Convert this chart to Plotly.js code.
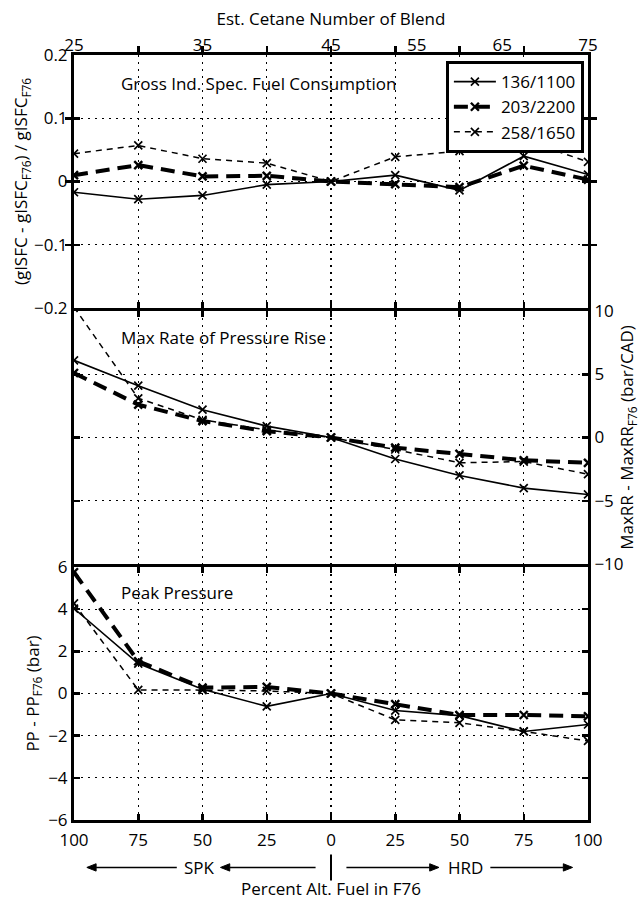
<!DOCTYPE html>
<html>
<head>
<meta charset="utf-8">
<script src="https://cdn.plot.ly/plotly-3.0.1.min.js"></script>
<style>
html,body{margin:0;padding:0;background:#fff;}
#chart{width:640px;height:903px;}
</style>
</head>
<body>
<div id="chart"></div>
<script>
// Percent alternative fuel in F76: negative = SPK side, positive = HRD side
const pctPositions = [-100, -75, -50, -25, 0, 25, 50, 75, 100];
const pctLabels = ['100', '75', '50', '25', '0', '25', '50', '75', '100'];

// Estimated cetane number of the blend (top axis)
const cetaneTicks = [25, 35, 45, 55, 65, 75];
const cetaneSPK100 = 25;   // 100% SPK
const cetaneF76 = 45;      // neat F76
const cetaneHRD100 = 75;   // 100% HRD

const seriesNames = ['136/1100', '203/2200', '258/1650'];

// Gross indicated specific fuel consumption, relative to F76
const gisfc136 = [-0.017, -0.028, -0.022, -0.005, 0, 0.010, -0.014, 0.040, 0.011];
const gisfc203 = [0.010, 0.026, 0.008, 0.009, 0, -0.004, -0.009, 0.025, 0.003];
const gisfc258 = [0.044, 0.057, 0.036, 0.029, 0, 0.039, 0.048, 0.066, 0.031];

// Max rate of pressure rise minus F76 (bar/CAD)
const maxrr136 = [6.1, 4.1, 2.2, 0.9, 0, -1.7, -3.0, -4.0, -4.5];
const maxrr203 = [5.1, 2.6, 1.3, 0.5, 0, -0.8, -1.3, -1.8, -2.0];
const maxrr258 = [10.3, 3.1, 1.4, 0.6, 0, -0.95, -2.0, -1.9, -2.9];

// Peak pressure minus F76 (bar)
const pp136 = [4.03, 1.42, 0.2, -0.61, 0, -0.81, -1.05, -1.8, -1.47];
const pp203 = [5.75, 1.53, 0.28, 0.31, 0, -0.5, -1.02, -1.02, -1.08];
const pp258 = [4.27, 0.17, 0.16, 0.12, 0, -1.25, -1.39, -1.8, -2.25];

const gisfcTicks = [-0.2, -0.1, 0, 0.1, 0.2];
const gisfcTickText = ['\u22120.2', '\u22120.1', '0', '0.1', '0.2'];
const maxrrTicks = [-10, -5, 0, 5, 10];
const maxrrTickText = ['\u221210', '\u22125', '0', '5', '10'];
const ppTicks = [-6, -4, -2, 0, 2, 4, 6];
const ppTickText = ['\u22126', '\u22124', '\u22122', '0', '2', '4', '6'];

// map cetane number to the percent axis (piecewise linear: SPK side / HRD side)
function cetaneToPct(c) {
  if (c <= cetaneF76) return -100 * (cetaneF76 - c) / (cetaneF76 - cetaneSPK100);
  return 100 * (c - cetaneF76) / (cetaneHRD100 - cetaneF76);
}
const cetanePos = cetaneTicks.map(cetaneToPct);

const FONT = 'Open Sans, sans-serif';
const styles = [
  {line: {color: '#000', width: 1.6, dash: 'solid'}, marker: {symbol: 'x-thin', size: 8, color: '#000', line: {color: '#000', width: 1.7}}},
  {line: {color: '#000', width: 4, dash: '14px,8px'}, marker: {symbol: 'x-thin', size: 8, color: '#000', line: {color: '#000', width: 2.4}}},
  {line: {color: '#000', width: 1.5, dash: '6px,5px'}, marker: {symbol: 'x-thin', size: 8, color: '#000', line: {color: '#000', width: 1.7}}}
];

const panels = [
  {y: [gisfc136, gisfc203, gisfc258], yaxis: 'y', legend: true},
  {y: [maxrr136, maxrr203, maxrr258], yaxis: 'y2', legend: false},
  {y: [pp136, pp203, pp258], yaxis: 'y3', legend: false}
];

const traces = [];
panels.forEach(p => {
  p.y.forEach((vals, i) => {
    traces.push({
      x: pctPositions, y: vals, xaxis: 'x', yaxis: p.yaxis,
      type: 'scatter', mode: 'lines+markers', name: seriesNames[i],
      showlegend: p.legend, legendgroup: seriesNames[i],
      line: styles[i].line, marker: styles[i].marker,
      cliponaxis: true, hoverinfo: 'skip'
    });
  });
});
// carrier trace so the top cetane axis is drawn
traces.push({x: cetanePos, y: cetanePos.map(() => null), xaxis: 'x2', yaxis: 'y',
  type: 'scatter', mode: 'markers', showlegend: false, hoverinfo: 'skip'});

// panel domains: a gap equal to the frame line width so the shared borders coincide
const plotH = 903 - 55 - 83;
const LW = 3;
const g = LW / plotH;
const ph = (1 - 2 * g) / 3;
const domBottom = [0, ph];
const domMiddle = [ph + g, 2 * ph + g];
const domTop = [2 * ph + 2 * g, 1];

const gridCommon = {
  showgrid: true, gridcolor: '#000', gridwidth: 1.3, griddash: '2px,5px',
  zeroline: false, showline: true, linecolor: '#000', linewidth: LW,
  mirror: 'allticks', ticks: 'inside', ticklen: 6, tickwidth: 2.5, tickcolor: '#000',
  tickfont: {family: FONT, size: 17, color: '#000'}, automargin: false
};

// arrow geometry along the bottom annotation row (percent-axis units / paper units)
const arrowY = -0.062;
const headLen = 3.6;   // x units
const headHalf = 0.0048; // paper units
function arrowShapes(tail, head) {
  const dir = head > tail ? 1 : -1;
  const base = head - dir * headLen;
  return [
    {type: 'line', xref: 'x', yref: 'paper', x0: tail, x1: base, y0: arrowY, y1: arrowY, line: {color: '#000', width: 1.6}},
    {type: 'path', xref: 'x', yref: 'paper',
     path: `M ${head},${arrowY} L ${base},${arrowY + headHalf} L ${base},${arrowY - headHalf} Z`,
     fillcolor: '#000', line: {color: '#000', width: 1}}
  ];
}

const layout = {
  width: 640, height: 903,
  margin: {l: 74, r: 52, t: 55, b: 83},
  paper_bgcolor: '#fff', plot_bgcolor: '#fff',
  font: {family: FONT, size: 17, color: '#000'},
  showlegend: true,
  legend: {
    x: 0.992, y: 0.992, xanchor: 'right', yanchor: 'top',
    bgcolor: '#fff', bordercolor: '#000', borderwidth: 3,
    font: {family: FONT, size: 17, color: '#000'},
    itemwidth: 42, tracegroupgap: 0
  },
  xaxis: Object.assign({}, gridCommon, {
    anchor: 'y3', range: [-100, 100], tickvals: pctPositions, ticktext: pctLabels,
    ticklabelstandoff: 3,
    title: {text: 'Percent Alt. Fuel in F76', font: {family: FONT, size: 17}, standoff: 33}
  }),
  xaxis2: {
    overlaying: 'x', anchor: 'y', side: 'top', range: [-100, 100],
    tickvals: cetanePos, ticktext: cetaneTicks.map(String), ticks: '',
    showgrid: false, zeroline: false, showline: false,
    tickfont: {family: FONT, size: 17, color: '#000'},
    title: {text: 'Est. Cetane Number of Blend', font: {family: FONT, size: 17}, standoff: 2},
    automargin: false
  },
  yaxis: Object.assign({}, gridCommon, {
    anchor: 'x', domain: domTop, range: [-0.2, 0.2],
    tickvals: gisfcTicks, ticktext: gisfcTickText,
    title: {text: '(gISFC - gISFC<sub>F76</sub>) / gISFC<sub>F76</sub>', font: {family: FONT, size: 17}, standoff: 0}
  }),
  yaxis2: Object.assign({}, gridCommon, {
    anchor: 'x', domain: domMiddle, side: 'right', range: [-10, 10],
    tickvals: maxrrTicks, ticktext: maxrrTickText,
    title: {text: 'MaxRR - MaxRR<sub>F76</sub> (bar/CAD)', font: {family: FONT, size: 17}, standoff: 6}
  }),
  yaxis3: Object.assign({}, gridCommon, {
    anchor: 'x', domain: domBottom, range: [-6, 6],
    tickvals: ppTicks, ticktext: ppTickText,
    title: {text: 'PP - PP<sub>F76</sub> (bar)', font: {family: FONT, size: 17}, standoff: 5}
  }),
  annotations: [
    {text: 'Gross Ind. Spec. Fuel Consumption', xref: 'paper', yref: 'paper', x: 0.088, y: 0.963, xanchor: 'left', yanchor: 'middle', showarrow: false, font: {family: FONT, size: 17}},
    {text: 'Max Rate of Pressure Rise', xref: 'paper', yref: 'paper', x: 0.088, y: 0.631, xanchor: 'left', yanchor: 'middle', showarrow: false, font: {family: FONT, size: 17}},
    {text: 'Peak Pressure', xref: 'paper', yref: 'paper', x: 0.088, y: 0.298, xanchor: 'left', yanchor: 'middle', showarrow: false, font: {family: FONT, size: 17}},
    {text: 'SPK', xref: 'x', yref: 'paper', x: -51, y: arrowY, xanchor: 'center', yanchor: 'middle', showarrow: false, font: {family: FONT, size: 17}},
    {text: 'HRD', xref: 'x', yref: 'paper', x: 52.5, y: arrowY, xanchor: 'center', yanchor: 'middle', showarrow: false, font: {family: FONT, size: 17}}
  ],
  shapes: [
    {type: 'line', xref: 'x', yref: 'paper', x0: 0, x1: 0, y0: -0.045, y1: -0.079, line: {color: '#000', width: 2}}
  ].concat(arrowShapes(-60, -95), arrowShapes(-6, -43), arrowShapes(6, 42), arrowShapes(62, 94))
};

Plotly.newPlot('chart', traces, layout, {displayModeBar: false, staticPlot: true});
</script>
</body>
</html>
